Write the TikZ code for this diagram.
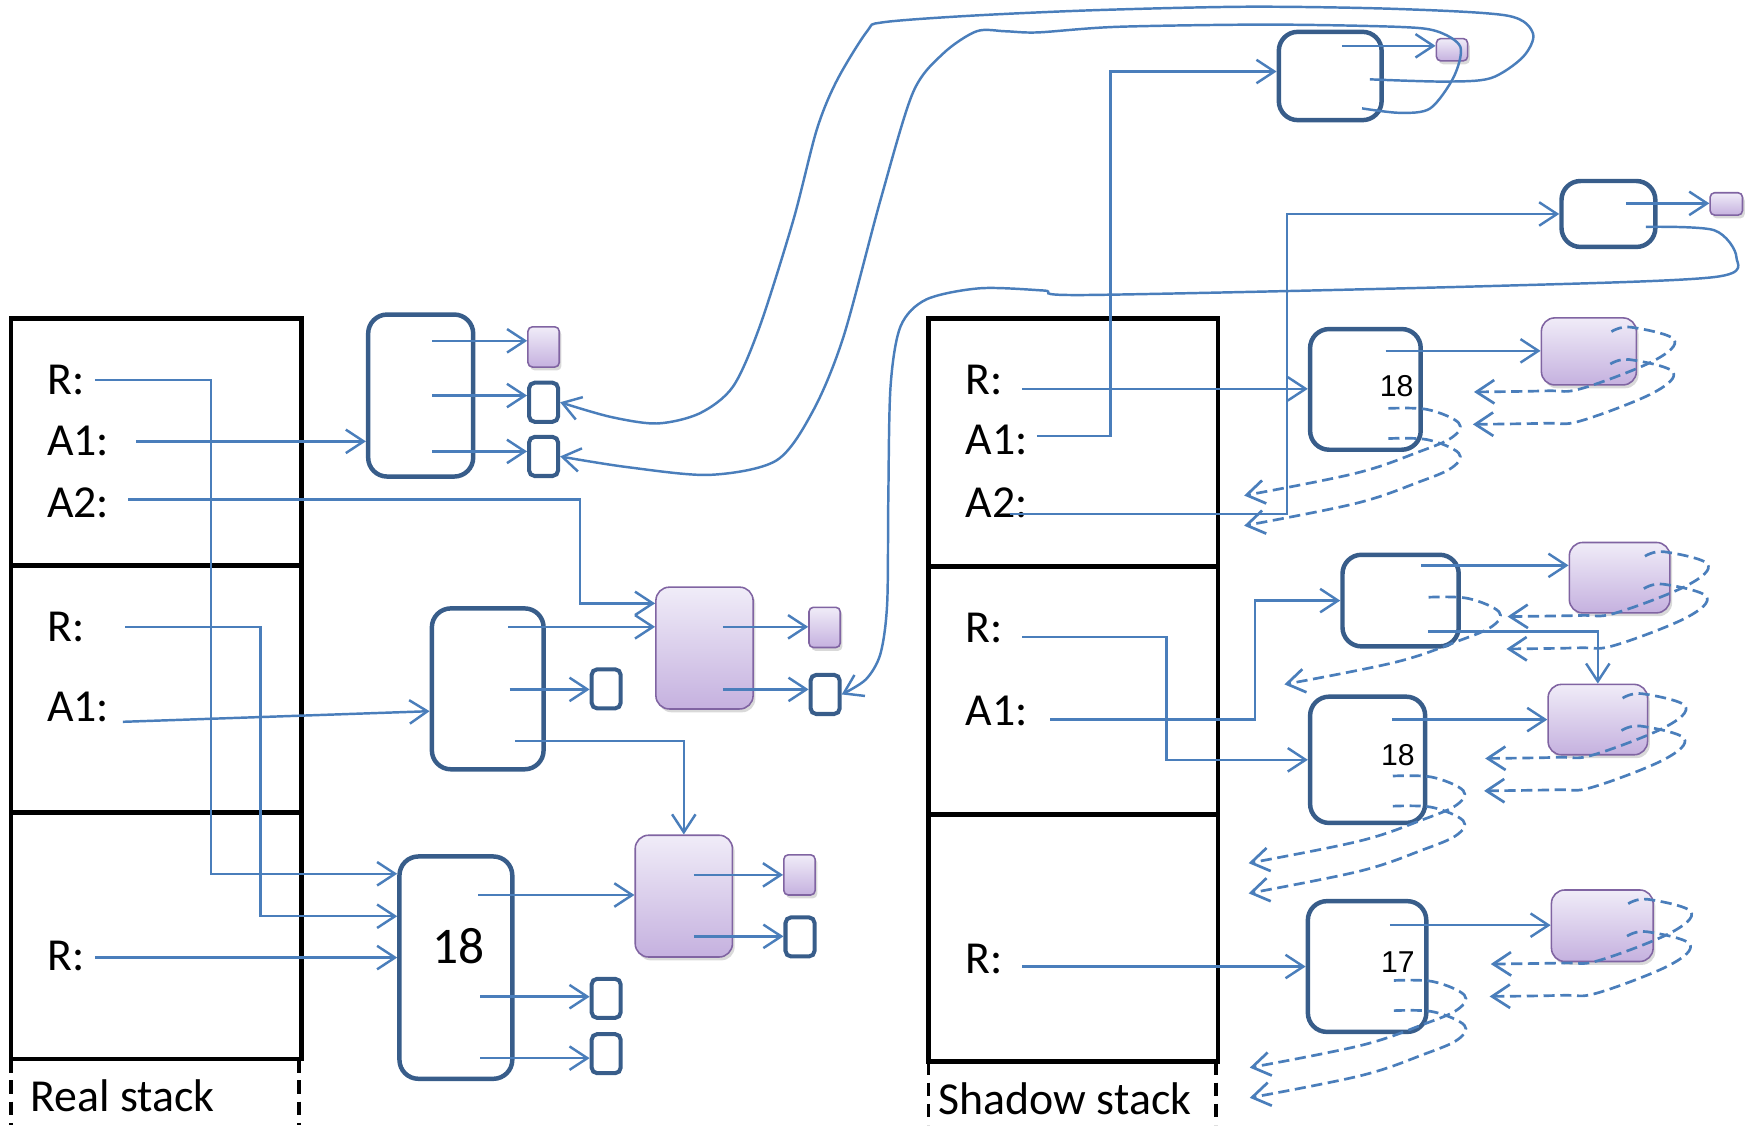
\documentclass[tikz,border=0pt]{standalone}
\usepackage{fontspec}
\setmainfont{Carlito}
\newfontfamily\arialf{Liberation Sans}
\usepackage{tikz}
\usetikzlibrary{arrows.meta, shadows}

\definecolor{linkblue}{HTML}{4A7EBB}
\definecolor{boxblue}{HTML}{385D8A}
\definecolor{violetline}{HTML}{8064A2}
\definecolor{lavtop}{HTML}{F0ECF8}
\definecolor{lavbot}{HTML}{C5B1DF}

\tikzset{
  obj/.style={draw=boxblue, line width=4pt, rounded corners=17pt, inner sep=0pt},
  cell/.style={draw=boxblue, line width=3.6pt, rounded corners=5pt, inner sep=0pt,
    minimum width=26pt, minimum height=35pt},
  pobj/.style={draw=violetline, line width=1.4pt, rounded corners=12pt, inner sep=0pt,
    top color=lavtop, bottom color=lavbot,
    drop shadow={shadow xshift=2pt, shadow yshift=-3pt, opacity=.3}},
  pcell/.style={pobj, rounded corners=4pt, minimum width=28pt, minimum height=36pt},
  lbl/.style={anchor=west, inner sep=0pt, font=\fontsize{41}{49}\selectfont},
  num/.style={inner sep=0pt, font=\fontsize{46}{50}\selectfont},
  snum/.style={inner sep=0pt, font=\arialf\fontsize{27}{30}\selectfont},
  link/.style={->, draw=linkblue, line width=2.2pt},
  back/.style={->, draw=linkblue, line width=2.4pt, dash pattern=on 10pt off 5pt},
}

% vòng nét đứt (ô xanh / ô tím)
\newcommand{\vongS}[2]{\begin{scope}[shift={(#1.north east)}, shift={(#2)}]
  \draw[back] plot[smooth, tension=.6] coordinates {(0,0) (35,1) (63,13) (57,26) (27,39) (-29,58) (-129,78)};
\end{scope}}
\newcommand{\vongQ}[2]{\begin{scope}[shift={(#1.north east)}, shift={(#2)}]
  \draw[back] plot[smooth, tension=.6] coordinates {(0,0) (17,-4) (56,7) (38,26) (-27,51) (-58,53) (-123,54)};
\end{scope}}

\begin{document}
\begin{tikzpicture}[>={Straight Barb[length=16pt,width=21pt]}, x=1pt, y=-1pt]
    \useasboundingbox (0,0) rectangle (1568,1007);

    % Ngăn xếp thật
    \draw[line width=4pt] (10,285) rectangle (270,948);
    \draw[line width=4pt] (10,506) -- (270,506) (10,727) -- (270,727);
    \draw[line width=3.5pt, dash pattern=on 12pt off 7pt] (10,948) -- (10,1007) (268,948) -- (268,1007);
    \node[lbl] (realname) at (27,981) {Real stack};
    \node[lbl] (realR1) at (42,340) {R:};
    \node[lbl] (realA1) at (42,395) {A1:};
    \node[lbl] (realA2) at (42,450) {A2:};
    \node[lbl] (realR2) at (42,561) {R:};
    \node[lbl] (realA12) at (42,633) {A1:};
    \node[lbl] (realR3) at (42,856) {R:};

    % Ngăn xếp bóng
    \draw[line width=4pt] (831,285) rectangle (1090,950);
    \draw[line width=4pt] (831,507) -- (1090,507) (831,729) -- (1090,729);
    \draw[line width=3.5pt, dash pattern=on 12pt off 7pt] (831,950) -- (831,1007) (1088,950) -- (1088,1007);
    \node[lbl] (shadowname) at (840,983) {Shadow stack};
    \node[lbl] (shR1) at (864,340) {R:};
    \node[lbl] (shA1) at (864,394) {A1:};
    \node[lbl] (shA2) at (864,450) {A2:};
    \node[lbl] (shR2) at (864,562) {R:};
    \node[lbl] (shA12) at (864,636) {A1:};
    \node[lbl] (shR3) at (864,858) {R:};

    % Các đối tượng bên trái
    \node[obj, minimum width=94pt, minimum height=145pt] (t1) at (376.5,354) {};
    \node[pcell] (sp1) at (486.5,310.5) {};
    \node[cell] (sb1a) at (486.5,360) {};
    \node[cell] (sb1b) at (486.5,408.5) {};
    \node[obj, minimum width=100pt, minimum height=144pt] (t2) at (436.5,616.5) {};
    \node[cell] (sb2) at (542.5,616.5) {};
    \node[pobj, minimum width=87pt, minimum height=109pt] (p1) at (630.5,580) {};
    \node[pcell] (sp2) at (738,561.5) {};
    \node[cell] (sb3) at (738.5,621.5) {};
    \node[obj, minimum width=101pt, minimum height=199pt] (r18) at (408,866) {};
    \node[num] (r18n) at (410,847) {18};
    \node[pobj, minimum width=87pt, minimum height=109pt] (p2) at (612,802) {};
    \node[pcell] (sp3) at (715.5,783) {};
    \node[cell] (sb6) at (716,838.5) {};
    \node[cell] (sb4) at (542.5,893.5) {};
    \node[cell] (sb5) at (542.5,943) {};

    % Các đối tượng bên phải
    \node[obj, minimum width=92pt, minimum height=79pt] (ts1) at (1190.5,68) {};
    \node[pcell, minimum height=20pt] (sp4) at (1299.5,44.5) {};
    \node[obj, minimum width=84pt, minimum height=59pt] (ts2) at (1439.5,191.5) {};
    \node[pcell, minimum width=29pt, minimum height=20pt] (sp5) at (1545,182.5) {};
    \node[obj, minimum width=99pt, minimum height=108pt] (s1) at (1222,348.5) {};
    \node[snum] (s1n) at (1250,346) {18};
    \node[pobj, minimum width=85pt, minimum height=60pt] (q1) at (1422,314.5) {};
    \node[obj, minimum width=104pt, minimum height=82pt] (s0) at (1253.5,537.5) {};
    \node[pobj, minimum width=90pt, minimum height=63pt] (q2) at (1449.5,517) {};
    \node[pobj, minimum width=89pt, minimum height=63pt] (q3) at (1430,644) {};
    \node[obj, minimum width=103pt, minimum height=113pt] (s2) at (1224,680) {};
    \node[snum] (s2n) at (1251,676) {18};
    \node[obj, minimum width=106pt, minimum height=117pt] (s3) at (1223.5,865) {};
    \node[snum] (s3n) at (1251,861) {17};
    \node[pobj, minimum width=91pt, minimum height=64pt] (q4) at (1434,828.5) {};

    % Điểm xuất phát
    \coordinate (rR1) at (85,340);
    \coordinate (rA1) at (122,395);
    \coordinate (rA2) at (115,447);
    \coordinate (rR2) at (112,561);
    \coordinate (rA12) at (110,646);
    \coordinate (rR3) at (85,857);
    \coordinate (t1a) at (387,305);
    \coordinate (t1b) at (387,354);
    \coordinate (t1c) at (387,404);
    \coordinate (t2a) at (455,561);
    \coordinate (t2b) at (456,617);
    \coordinate (t2c) at (461,663);
    \coordinate (p1a) at (647,561);
    \coordinate (p1b) at (647,617);
    \coordinate (r18a) at (428,801);
    \coordinate (r18b) at (430,892);
    \coordinate (r18c) at (430,947);
    \coordinate (p2a) at (621,783);
    \coordinate (p2b) at (621,838);
    \coordinate (sR1) at (915,348);
    \coordinate (sA1) at (928,390);
    \coordinate (sA2) at (904,460);
    \coordinate (sR2) at (915,570);
    \coordinate (sA12) at (940,644);
    \coordinate (sR3) at (915,865);
    \coordinate (ts1a) at (1201,41);
    \coordinate (ts1b) at (1226,71);
    \coordinate (ts1c) at (1219,97);
    \coordinate (ts2a) at (1455,182);
    \coordinate (ts2b) at (1473,203);
    \coordinate (s1a) at (1240,314);
    \coordinate (s0a) at (1272,506);
    \coordinate (s0c) at (1278,565);
    \coordinate (s2a) at (1246,644);
    \coordinate (s3a) at (1244,828);

    % Mũi tên ngăn xếp thật
    \draw[link] (rR1) -- ++(104,0) |- ([yshift=84pt]r18.west);
    \draw[link] (rA1) -- (rA1 -| t1.west);
    \draw[link] (rA2) -- ++(404,0) |- ([yshift=40pt]p1.west);
    \draw[link] (rR2) -- ++(121,0) |- ([yshift=46pt]r18.west);
    \draw[link] (rA12) -- ([yshift=-20pt]t2.west);
    \draw[link] (rR3) -- (rR3 -| r18.west);
    \foreach \a/\b in {t1a/sp1, t1b/sb1a, t1c/sb1b, t2a/p1, t2b/sb2, p1a/sp2, p1b/sb3,
        r18a/p2, r18b/sb4, r18c/sb5, p2a/sp3, p2b/sb6}
        \draw[link] (\a) -- (\a -| \b.west);
    \draw[link] (t2c) -| (p2.north);

    % Mũi tên ngăn xếp bóng
    \draw[link] (sR1) -- (sR1 -| s1.west);
    \draw[link] (sA1) -- ++(66,0) |- ([yshift=4pt]ts1.west);
    \draw[link] (sA2) -- ++(248,0) |- (ts2.west);
    \draw[link] (sR2) -- ++(129,0) |- (s2.west);
    \draw[link] (sA12) -- ++(183,0) |- (s0.west);
    \draw[link] (sR3) -- (sR3 -| s3.west);
    \foreach \a/\b in {ts1a/sp4, ts2a/sp5, s1a/q1, s0a/q2, s2a/q3, s3a/q4}
        \draw[link] (\a) -- (\a -| \b.west);
    \draw[link] (s0c) -| (q3.north);

    % Đường cong dài
    \draw[link] plot[smooth] coordinates {(ts1b) (1292,73) (1334,70) (1363,51) (1372,30) (1349,14)
        (1250,8) (1119,6) (983,9) (870,14) (790,20) (776,28) (749,72) (731,116) (710,197)
        (680,292) (656,346) (626,370) (588,379) (546,373) (sb1a.east)};
    \draw[link] plot[smooth] coordinates {(ts1c) (1253,101) (1280,97) (1301,69) (1307,42) (1286,28)
        (1250,24) (1134,22) (1000,24) (929,29) (900,28) (874,28) (844,48) (817,83) (788,179)
        (755,301) (728,367) (695,412) (635,425) (561,418) (sb1b.east)};
    \draw[link] plot[smooth] coordinates {(ts2b) (1534,206) (1554,230) (1534,248) (1334,256)
        (974,264) (934,260) (877,258) (829,268) (806,292) (797,346) (795,447) (794,540)
        (788,585) (775,608) (sb3.east)};

    % Vòng nét đứt
    \vongS{s1}{-31,73} \vongS{s1}{-31,100}
    \vongS{s0}{-29,40}
    \vongS{s2}{-31,73} \vongS{s2}{-31,100}
    \vongS{s3}{-31,73} \vongS{s3}{-31,100}
    \vongQ{q1}{-23,13} \vongQ{q1}{-24,42}
    \vongQ{q2}{-23,13} \vongQ{q2}{-24,42}
    \vongQ{q3}{-23,13} \vongQ{q3}{-24,42}
    \vongQ{q4}{-23,13} \vongQ{q4}{-24,42}
\end{tikzpicture}
\end{document}
